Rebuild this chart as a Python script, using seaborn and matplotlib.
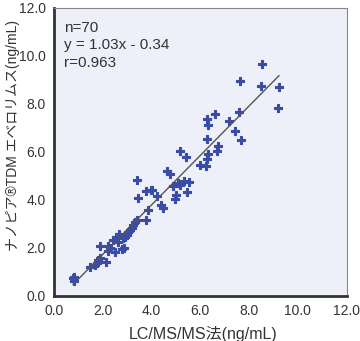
import matplotlib
matplotlib.use("Agg")
import matplotlib.pyplot as plt
import numpy as np
import pandas as pd
import seaborn as sns

# LC/MS/MS method (x) vs Nanopia TDM everolimus (y), ng/mL
lcms = [
    0.78, 0.82, 0.80, 1.48, 1.68, 1.75, 1.82, 1.89, 1.89, 2.14,
    2.23, 2.30, 2.50, 2.57, 2.68, 2.64, 2.78, 2.85, 2.84, 2.98,
    3.05, 3.18, 3.25, 3.32, 3.40, 3.76, 3.40, 3.46, 3.76, 3.96,
    3.87, 4.23, 4.40, 4.47, 4.62, 4.75, 4.00, 4.89, 4.96, 5.10,
    5.16, 5.34, 5.55, 5.44, 5.15, 5.42, 5.97, 6.23, 6.26, 6.33,
    6.28, 6.74, 6.69, 6.30, 6.26, 6.61, 7.17, 7.43, 7.68, 7.58,
    7.62, 8.47, 8.51, 9.23, 9.17, 2.40, 2.90, 5.00, 3.10, 2.20,
]
nanopia = [
    0.72, 0.63, 0.78, 1.20, 1.26, 1.36, 1.50, 1.58, 2.08, 1.40,
    1.88, 1.97, 1.82, 2.45, 2.58, 2.24, 1.96, 2.00, 2.38, 2.52,
    2.66, 2.80, 2.94, 3.06, 3.15, 3.15, 4.80, 4.06, 4.34, 4.38,
    3.57, 4.13, 3.78, 3.64, 5.18, 5.08, 4.41, 4.55, 4.04, 4.68,
    4.62, 4.76, 4.72, 4.30, 6.01, 5.77, 5.45, 5.42, 5.71, 5.91,
    6.54, 6.23, 6.01, 7.09, 7.37, 7.56, 7.27, 6.84, 6.47, 7.66,
    8.95, 8.75, 9.66, 8.71, 7.82, 2.30, 2.45, 4.20, 2.72, 2.05,
]
slope = 1.03
intercept = -0.34
n_label = "n=70"
r_label = "r=0.963"
ticks = [0, 2, 4, 6, 8, 10, 12]

df = pd.DataFrame({"lcms": lcms, "nanopia": nanopia})

sns.set_style("white")
plt.rcParams["font.family"] = ["Liberation Sans", "Noto Sans CJK JP", "DejaVu Sans"]

fig = plt.figure(figsize=(3.6, 3.41), dpi=100)
ax = fig.add_axes([0.15, 0.133, 0.813, 0.845])
ax.set_facecolor("#edf0f8")

sns.scatterplot(
    data=df, x="lcms", y="nanopia", ax=ax,
    marker="P", s=30, color="#3a4ca6", edgecolor="#3a4ca6", linewidth=0.8,
    zorder=3,
)

xs = np.array([df["lcms"].min(), df["lcms"].max()])
ax.plot(xs, slope * xs + intercept, color="#555555", lw=1.0, zorder=4)

txt_kw = dict(fontsize=11, color="#333333", va="center")
ax.text(0.4, 11.15, n_label, **txt_kw)
ax.text(0.4, 10.45, f"y = {slope:.2f}x - {abs(intercept):.2f}", **txt_kw)
ax.text(0.4, 9.7, r_label, **txt_kw)

ax.set_xlim(0, 12)
ax.set_ylim(0, 12)
ax.set_xticks(ticks)
ax.set_yticks(ticks)
ax.set_xticklabels([f"{t:.1f}" for t in ticks])
ax.set_yticklabels([f"{t:.1f}" for t in ticks])
ax.tick_params(direction="in", length=3, width=1, colors="#333333",
               labelsize=10, pad=6)

for side in ["left", "bottom"]:
    ax.spines[side].set_linewidth(2.0)
    ax.spines[side].set_color("#333333")
for side in ["top", "right"]:
    ax.spines[side].set_linewidth(0.8)
    ax.spines[side].set_color("#888888")

ax.set_xlabel("LC/MS/MS法(ng/mL)", fontsize=11.5, color="#333333")
ax.xaxis.set_label_coords(0.51, -0.105)
ax.set_ylabel("ナノピア®TDM エベロリムス(ng/mL)", fontsize=10, color="#333333")
ax.yaxis.set_label_coords(-0.115, 0.555)

fig.savefig("out.png", dpi=100)
